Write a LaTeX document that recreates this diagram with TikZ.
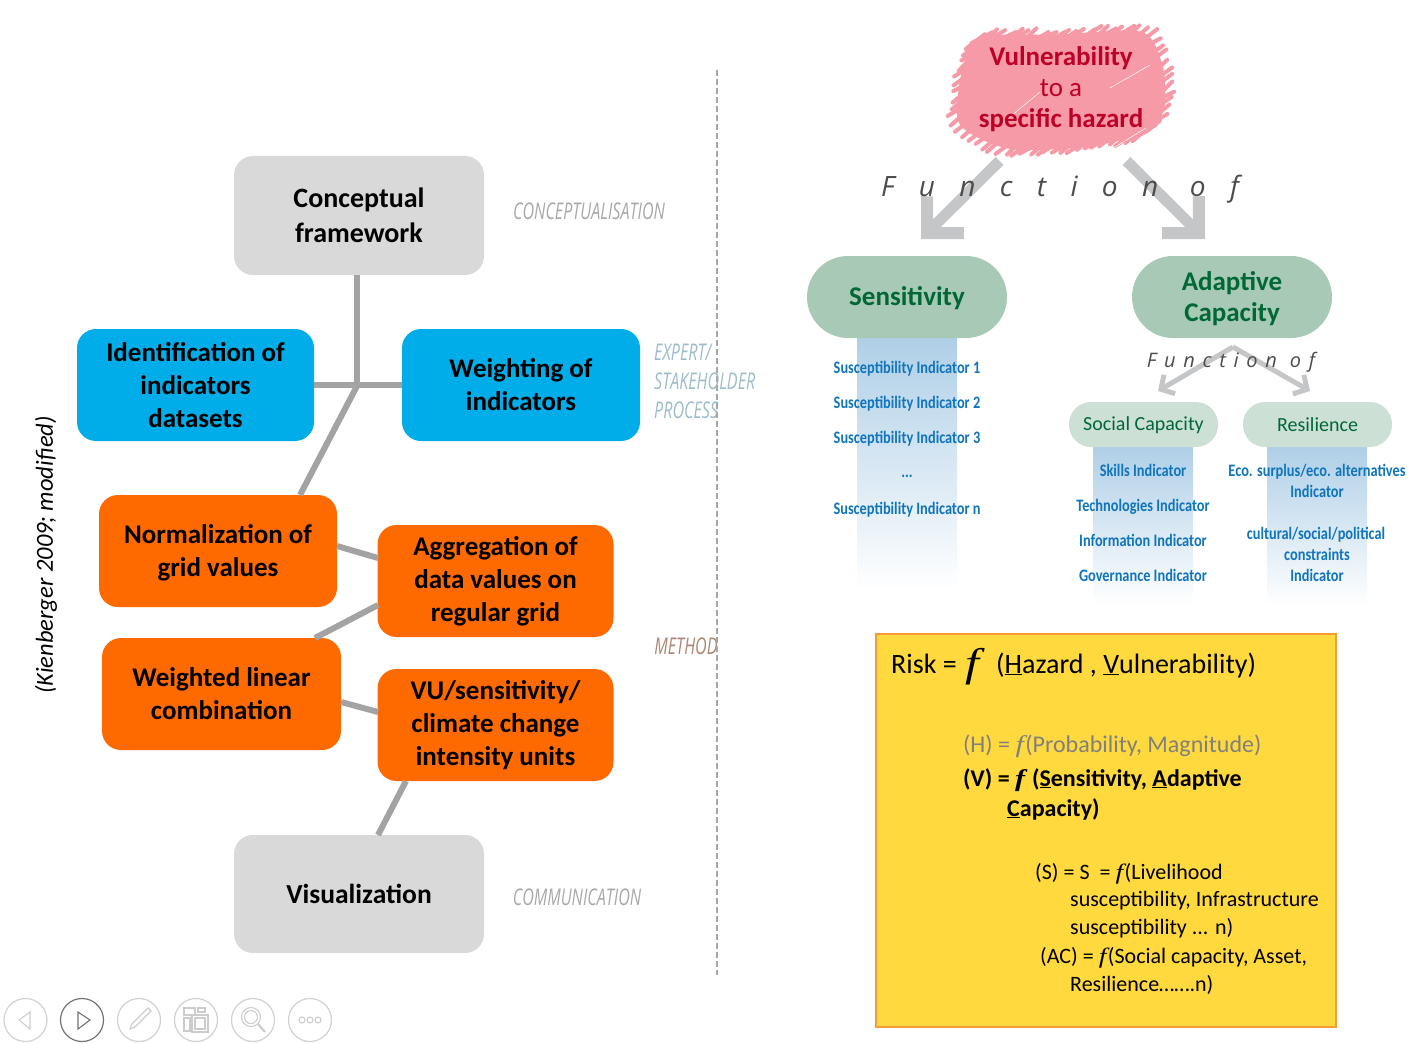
\documentclass[tikz,border=0pt]{standalone}
\usepackage{fontspec}
\setmainfont{Carlito}
\newfontfamily\stagefont[FakeStretch=0.70]{Open Sans}
\newfontfamily\condfont[FakeStretch=0.82]{Carlito}
\newfontfamily\wideF[LetterSpace=87]{Open Sans}
\newfontfamily\narrowF[LetterSpace=38.5]{Open Sans}
\newfontfamily\serifF[FakeStretch=1.25]{Liberation Serif}
\usetikzlibrary{arrows.meta, decorations.markings}
\definecolor{boxgrey}{HTML}{D9D9D9}
\definecolor{boxblue}{HTML}{00ADE8}
\definecolor{boxorange}{HTML}{FF6A00}
\definecolor{linkgrey}{HTML}{A3A3A3}
\definecolor{arrowgrey}{HTML}{C5C6C8}
\definecolor{pinkblob}{HTML}{F59AA6}
\definecolor{vulnred}{HTML}{BE0027}
\definecolor{pillgreen}{HTML}{A8C9B5}
\definecolor{pilllight}{HTML}{CDE0D5}
\definecolor{pilltext}{HTML}{006837}
\definecolor{indblue}{HTML}{0F75BC}
\definecolor{columnblue}{HTML}{AFCFE7}
\definecolor{columnmid}{HTML}{D8E0F0}
\definecolor{riskyellow}{HTML}{FFD93D}
\definecolor{riskedge}{HTML}{F79A3A}
\definecolor{stagegrey}{HTML}{A8A8A8}
\definecolor{stageblue}{HTML}{9DBCCB}
\definecolor{stagebrown}{HTML}{AD8573}
\tikzstyle{stepbox} = [rounded corners=19pt, inner sep=0pt, align=center, text=black, font=\bfseries\fontsize{27}{33}\selectfont]
\tikzstyle{greybox} = [stepbox, fill=boxgrey, minimum width=250pt, minimum height=119pt, font=\bfseries\fontsize{28}{35}\selectfont]
\tikzstyle{bluebox} = [stepbox, fill=boxblue, minimum width=237pt, minimum height=112pt]
\tikzstyle{orangebox} = [stepbox, fill=boxorange, minimum width=237pt, minimum height=112pt]
\tikzstyle{link} = [draw=linkgrey, line width=6pt]
\tikzstyle{stage} = [inner sep=0pt, font=\stagefont\itshape\fontsize{23}{29}\selectfont, align=left]
\tikzstyle{bigarrow} = [draw=arrowgrey, line width=11pt, -{Straight Barb[length=26pt, width=52pt, line width=12pt]}]
\tikzstyle{smallarrow} = [draw=arrowgrey, line width=5pt, -{Straight Barb[length=10pt, width=22pt, line width=5pt]}]
\tikzstyle{bigpill} = [fill=pillgreen, rounded corners=41pt, minimum width=200pt, minimum height=82pt, inner sep=0pt, align=center, text=pilltext, font=\bfseries\fontsize{27}{31}\selectfont]
\tikzstyle{smallpill} = [fill=pilllight, rounded corners=22pt, minimum width=149pt, minimum height=45pt, inner sep=0pt, text=pilltext, font=\fontsize{20}{24}\selectfont]
\tikzstyle{column} = [top color=columnblue, middle color=columnmid, bottom color=white, minimum width=100pt, inner sep=0pt]
\tikzstyle{indicator} = [inner sep=0pt, text=indblue, font=\condfont\bfseries\fontsize{17.5}{21}\selectfont]
\tikzstyle{risktext} = [anchor=base west, inner sep=0pt, font=\fontsize{24}{27}\selectfont]
\tikzstyle{risksmall} = [anchor=base west, inner sep=0pt, font=\fontsize{22}{26}\selectfont]
\tikzstyle{navbtn} = [draw=black!18, line width=1.2pt, circle, minimum size=43pt, inner sep=0pt]
\tikzstyle{navicon} = [draw=black!20, line width=1.1pt]
\tikzstyle{scribble} = [decoration={markings, mark=between positions 0 and 1 step 8pt with {
  \pgftransformresetnontranslations
  \draw[pinkblob, line width=4pt, line cap=round] ({(-6-5*rnd)*1pt},{(-4-4*rnd)*1pt}) -- ({(6+5*rnd)*1pt},{(4+4*rnd)*1pt});
}}, postaction={decorate}]
\newcommand{\ffun}{{\serifF\itshape f\kern1.5pt}}

\begin{document}
\begin{tikzpicture}[x=1pt, y=-1pt]
\useasboundingbox (0,0) rectangle (1421,1043);
\pgfmathsetseed{41}

\node[greybox] (concept) at (359,215.5) {Conceptual\\framework};
\node[bluebox] (identify) at (195.5,385) {Identification of\\indicators\\datasets};
\node[bluebox, minimum width=238pt] (weighting) at (521,385) {Weighting of\\indicators};
\node[orangebox, minimum width=238pt, text depth=0pt] (normal) at (218,551) {Normalization of\\grid values};
\node[orangebox, minimum width=236pt, text depth=3pt] (aggregate) at (495.5,581) {Aggregation of\\data values on\\regular grid};
\node[orangebox, minimum width=239pt] (weighted) at (221.5,694) {Weighted linear\\combination};
\node[orangebox, minimum width=236pt, text depth=3pt] (vuunits) at (495.5,725) {VU/sensitivity/\\climate change\\intensity units};
\node[greybox, minimum height=118pt, font=\bfseries\fontsize{27.5}{35}\selectfont] (visual) at (359,894) {Visualization};

\coordinate (hub) at (357,386);
\coordinate (normalTop) at (300,495);
\coordinate (normalOut) at (337,546);
\coordinate (aggIn) at (378,558);
\coordinate (aggOut) at (378,605);
\coordinate (weightedTop) at (315,638);
\coordinate (weightedOut) at (341,702);
\coordinate (vuIn) at (378,712);
\coordinate (vuOut) at (406,781);
\coordinate (visualTop) at (378,835);
\draw[link] (hub |- concept.south) -- (hub);
\draw[link] (identify.east) -- (weighting.west);
\draw[link] (hub) -- (normalTop);
\draw[link] (normalOut) -- (aggIn);
\draw[link] (aggOut) -- (weightedTop);
\draw[link] (weightedOut) -- (vuIn);
\draw[link] (vuOut) -- (visualTop);

\node[stage, text=stagegrey] (stageConcept) at (589,211) {CONCEPTUALISATION};
\node[stage, text=stagegrey] (stageComm) at (577,897) {COMMUNICATION};
\node[stage, text=stagebrown] (stageMethod) at (686,646) {METHOD};
\node[stage, text=stageblue, anchor=north west] (stageExpert) at (654,344) {EXPERT/\\STAKEHOLDER\\PROCESS};

\node[inner sep=0pt, rotate=90, font=\itshape\fontsize{24.5}{29}\selectfont] (source) at (46,555) {(Kienberger 2009; modified)};

\draw[draw=black!35, line width=2pt, dash pattern=on 6pt off 3pt] (717,70) -- (717,975);

\draw[draw=pinkblob, fill=pinkblob, line width=3pt, scribble]
  plot[smooth cycle] coordinates {(982,38) (1060,36) (1140,33) (1160,62) (1164,95) (1160,115) (1142,134) (1075,146) (1008,147) (962,125) (960,90) (968,58)};
\draw[white, line width=.5pt] (1000,125) -- (1040,92);
\draw[white, line width=.5pt] (1110,150) -- (1146,128);
\draw[white, line width=.5pt] (1110,88) -- (1150,65);
\node[inner sep=0pt, align=center, text=vulnred, font=\fontsize{27}{31}\selectfont] (vuln) at (1061,89) {\textbf{Vulnerability}\\to a\\\textbf{specific hazard}};

\coordinate (vulnLeft) at (999.5,161);
\coordinate (vulnRight) at (1126.5,161);
\coordinate (sensTip) at (921,239);
\coordinate (adaptTip) at (1205,239);
\draw[bigarrow] (vulnLeft) -- (sensTip);
\draw[bigarrow] (vulnRight) -- (adaptTip);
\node[inner sep=0pt, text=black!70, font=\wideF\itshape\fontsize{28}{32}\selectfont] (funcBig) at (1060,189) {Function of};

\node[column, minimum height=252pt] (sensColumn) at (907,464) {};
\node[column, minimum height=158pt] (socialColumn) at (1143,526) {};
\node[column, minimum height=158pt] (resilColumn) at (1317,526) {};

\node[bigpill, text depth=1.5pt] (sensitivity) at (907,297) {Sensitivity};
\node[bigpill, text depth=0pt] (adaptive) at (1232,297) {Adaptive\\Capacity};
\node[smallpill, text depth=1pt] (social) at (1143.5,424.5) {Social Capacity};
\node[smallpill] (resilience) at (1317.5,424.5) {Resilience};

\coordinate (funcApex) at (1233,347);
\coordinate (socialTip) at (1158,391);
\coordinate (resilTip) at (1310,391);
\draw[smallarrow] (funcApex) -- (socialTip);
\draw[smallarrow] (funcApex) -- (resilTip);
\node[inner sep=0pt, text=black!70, font=\narrowF\itshape\fontsize{20}{24}\selectfont] (funcSmall) at (1231,362) {Function of};

\node[indicator] (sus1) at (907,369) {Susceptibility Indicator 1};
\node[indicator] (sus2) at (907,404) {Susceptibility Indicator 2};
\node[indicator] (sus3) at (907,439) {Susceptibility Indicator 3};
\node[indicator] (susDots) at (907,476) {...};
\node[indicator] (susN) at (907,510) {Susceptibility Indicator n};
\node[indicator] (skills) at (1143,470) {Skills Indicator};
\node[indicator] (techno) at (1143,507) {Technologies Indicator};
\node[indicator] (inform) at (1143,540) {Information Indicator};
\node[indicator] (govern) at (1143,575) {Governance Indicator};
\node[indicator] (eco) at (1317,472) {Eco. surplus/eco. alternatives};
\node[indicator] (ecoInd) at (1317,491) {Indicator};
\node[indicator] (cultural) at (1316,535) {cultural/social/political};
\node[indicator] (constraints) at (1317,554) {constraints};
\node[indicator] (cultInd) at (1317,575) {Indicator};

\node[draw=riskedge, fill=riskyellow, line width=2pt, minimum width=460pt, minimum height=393pt, inner sep=0pt] (riskbox) at (1106,830.5) {};
\node[risktext, font=\fontsize{28}{32}\selectfont] (risk) at (891,673) {Risk =};
\node[risktext, font=\serifF\itshape\fontsize{40}{44}\selectfont] (riskF) at (965,676) {f};
\node[risktext, font=\fontsize{28}{32}\selectfont] (riskArgs) at (996,673) {(\underline{H}azard , \underline{V}ulnerability)};
\node[risktext, text=black!50] (hazard) at (963,752) {(H) = \ffun(Probability, Magnitude)};
\node[risktext, font=\bfseries\fontsize{24}{27}\selectfont] (vulnEq) at (963,786) {(V) = \ffun\ (\underline{S}ensitivity, \underline{A}daptive};
\node[risktext, font=\bfseries\fontsize{24}{27}\selectfont] (vulnEqB) at (1007,816) {\underline{C}apacity)};
\node[risksmall] (sensEq) at (1035,879) {(S) = S\ \ = \ffun(Livelihood};
\node[risksmall] (sensEqB) at (1070,906) {susceptibility, Infrastructure};
\node[risksmall] (sensEqC) at (1070,934) {susceptibility ... n)};
\node[risksmall] (acEq) at (1040,963) {(AC) = \ffun(Social capacity, Asset,};
\node[risksmall] (acEqB) at (1070,991) {Resilience…….n)};

\node[navbtn] (navPrev) at (25.5,1020) {};
\node[navbtn, draw=black!55] (navNext) at (82,1020) {};
\node[navbtn] (navPen) at (139,1020) {};
\node[navbtn] (navSlides) at (196,1020) {};
\node[navbtn] (navFind) at (253,1020) {};
\node[navbtn] (navMore) at (310,1020) {};
\draw[navicon] (30,1012) -- (19,1020) -- (30,1029) -- cycle;
\draw[navicon, draw=black!55] (78,1012) -- (90,1020) -- (78,1029) -- cycle;
\draw[navicon] (130,1029) -- (132,1024) -- (148,1008) -- (151,1011) -- (135,1027) -- cycle;
\draw[navicon] (184,1008) rectangle (195,1015);
\draw[navicon] (198,1008) rectangle (205,1012);
\draw[navicon] (184,1018) rectangle (190,1031);
\draw[navicon, fill=white] (192,1015) rectangle (208,1032);
\draw[navicon] (195,1018) rectangle (205,1029);
\draw[navicon] (251,1017) circle (9.5pt);
\draw[navicon] (251,1017) circle (6.5pt);
\draw[navicon, line width=2.2pt] (258,1024) -- (265,1032);
\foreach \dotx in {302,310,318} {
  \draw[navicon] (\dotx,1020) circle (3pt);
}
\end{tikzpicture}
\end{document}
